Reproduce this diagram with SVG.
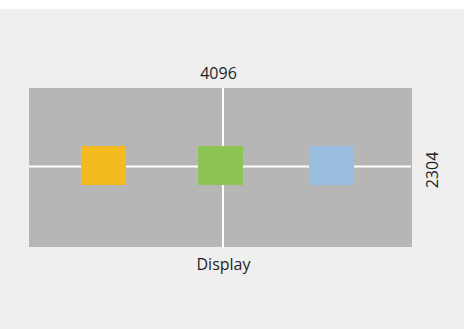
<svg xmlns="http://www.w3.org/2000/svg" width="464" height="329" viewBox="0 0 464 329">
<style>
.lbl{font-family:"Open Sans","Noto Sans",sans-serif;font-size:16px;fill:#1e1e1e}
.ln{stroke:#ffffff;stroke-width:2;fill:none}
</style>
<rect x="0" y="0" width="464" height="329" fill="#ffffff"/>
<rect x="0" y="9" width="464" height="320" fill="#efefef"/>
<g id="display">
<rect x="29" y="88" width="383" height="159" fill="#b5b6b5"/>
</g>
<g id="connectors">
<line class="ln" x1="29" y1="166.5" x2="411" y2="166.5"/>
<line class="ln" x1="223" y1="88" x2="223" y2="248"/>
</g>
<g id="yellow"><rect x="81" y="146" width="45" height="39" fill="#f4bb1e"/></g>
<g id="green"><rect x="198" y="146" width="45" height="39" fill="#8cc553"/></g>
<g id="blue"><rect x="309" y="146" width="45" height="39" fill="#9abedf"/></g>
<g id="labels">
<text class="lbl" x="218.5" y="78.5" text-anchor="middle">4096</text>
<text class="lbl" x="223.5" y="269.5" text-anchor="middle">Display</text>
<text class="lbl" transform="translate(437.5,170) rotate(-90)" text-anchor="middle">2304</text>
</g>
</svg>
